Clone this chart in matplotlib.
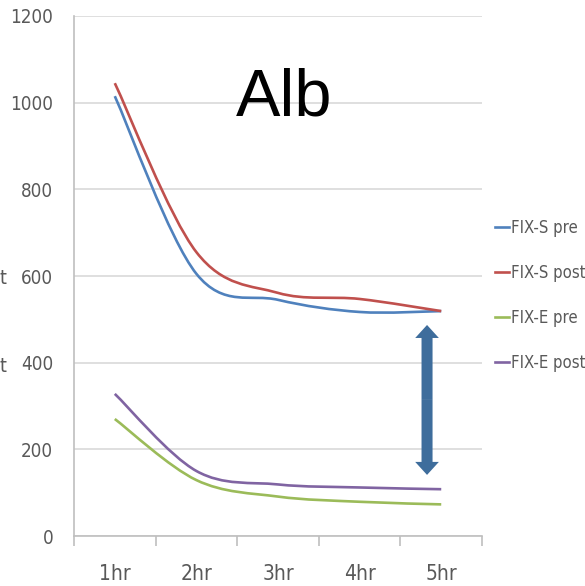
import matplotlib
matplotlib.use("Agg")
import matplotlib.pyplot as plt
import numpy as np
from matplotlib.path import Path
from matplotlib.patches import PathPatch, FancyArrow
from matplotlib.lines import Line2D
from matplotlib import font_manager

hours = ["1hr", "2hr", "3hr", "4hr", "5hr"]
fix_s_pre = [1015, 605, 545, 517, 519]
fix_s_post = [1045, 655, 561, 547, 519]
fix_e_pre = [270, 129, 91, 79, 73]
fix_e_post = [328, 150, 119, 112, 108]

series = [
    ("FIX-S pre", fix_s_pre, "#4F81BD"),
    ("FIX-S post", fix_s_post, "#C0504D"),
    ("FIX-E pre", fix_e_pre, "#9BBB59"),
    ("FIX-E post", fix_e_post, "#8064A2"),
]

GREY = "#595959"

# pick a narrow face if one is around, else plain Liberation Sans
condensed = [f for f in font_manager.fontManager.ttflist
             if f.stretch in ("condensed", "semi-condensed", "extra-condensed")
             or "Narrow" in f.name or "Condensed" in f.name]
if condensed:
    NARROW_FP = dict(family=condensed[0].name, stretch=condensed[0].stretch)
    SCALE = 1.0
else:
    NARROW_FP = dict(family="Liberation Sans")
    SCALE = 0.8


def smooth_path(xs, ys):
    # excel-ish smoothed line: catmull-rom turned into cubic beziers
    pts = np.column_stack([xs, ys]).astype(float)
    n = len(pts)
    verts = [pts[0]]
    codes = [Path.MOVETO]
    for i in range(n - 1):
        p_prev = pts[max(i - 1, 0)]
        p0, p1 = pts[i], pts[i + 1]
        p_next = pts[min(i + 2, n - 1)]
        c1 = p0 + (p1 - p_prev) / 6
        c2 = p1 - (p_next - p0) / 6
        verts += [c1, c2, p1]
        codes += [Path.CURVE4] * 3
    return Path(verts, codes)


fig = plt.figure(figsize=(5.85, 5.86), dpi=100)
ax = fig.add_axes([0.1265, 0.0853, 0.824 - 0.1265, 0.9727 - 0.0853])

x = np.arange(len(hours))
handles = []
for name, vals, color in series:
    ax.add_patch(PathPatch(smooth_path(x, vals), fill=False, edgecolor=color,
                           lw=1.9, capstyle="butt"))
    handles.append(Line2D([], [], color=color, lw=1.9, label=name))

ax.set_xlim(-0.5, len(hours) - 0.5)
ax.set_ylim(0, 1200)
ax.set_yticks(np.arange(0, 1201, 200))
ax.grid(axis="y", color="#D9D9D9", lw=1.2)
ax.set_axisbelow(True)

# category boundaries get the tick marks, labels sit in the middle
ax.set_xticks(np.arange(-0.5, len(hours)), labels=[])
ax.set_xticks(x, labels=hours, minor=True)
ax.tick_params(axis="x", which="major", length=7, color="#BFBFBF", width=1.2,
               direction="out")
ax.tick_params(axis="x", which="minor", length=0, pad=20, labelsize=15 * SCALE,
               labelcolor=GREY)
ax.tick_params(axis="y", length=0, pad=15, labelsize=13.5 * SCALE, labelcolor=GREY)
for lab in ax.get_xticklabels(minor=True) + ax.get_yticklabels():
    lab.set_family(NARROW_FP["family"])
    if "stretch" in NARROW_FP:
        lab.set_stretch(NARROW_FP["stretch"])

for side in ["top", "right"]:
    ax.spines[side].set_visible(False)
for side in ["left", "bottom"]:
    ax.spines[side].set_color("#BFBFBF")
    ax.spines[side].set_linewidth(1.2)

# double headed arrow between the two groups
arrow_x, arrow_lo, arrow_hi = 3.826, 141, 487
arrow_mid = (arrow_lo + arrow_hi) / 2
for end in (arrow_hi, arrow_lo):
    ax.add_patch(FancyArrow(arrow_x, arrow_mid, 0, end - arrow_mid, width=0.135,
                            head_width=0.29, head_length=30,
                            length_includes_head=True, color="#3E6D9C", lw=0))

fig.text(0.4855, 0.803, "Alb", fontsize=48, family=["Liberation Sans", "DejaVu Sans"],
         ha="center", va="baseline")

# cut off axis title letters at the left edge
for ypx in (278, 367):
    fig.text(0.0, 1 - ypx / 586, "t", fontsize=14 * SCALE, color=GREY,
             va="center", ha="left", **NARROW_FP)

leg = fig.legend(handles=handles, loc="upper left", bbox_to_anchor=(0.846, 0.627),
                 frameon=False, borderpad=0, borderaxespad=0,
                 handlelength=0.85, handletextpad=0.1,
                 labelspacing=1.63, prop=dict(size=12 * SCALE, **NARROW_FP))
for t in leg.get_texts():
    t.set_color(GREY)

fig.savefig("out.png", dpi=100)
